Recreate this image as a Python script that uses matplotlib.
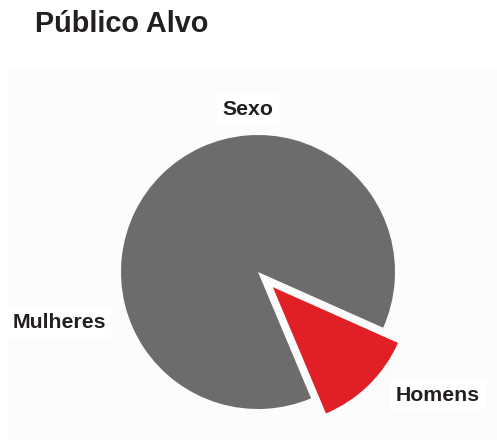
import matplotlib
matplotlib.use("Agg")
import matplotlib.pyplot as plt
from matplotlib.patches import Rectangle

# Audience split by sex (percent)
categories = ["Mulheres", "Homens"]
shares = [88, 12]
colors = ["#6e6b6b", "#e01f26"]
explode_frac = [0, 0.155]

title = "Público Alvo"
subtitle = "Sexo"

plt.rcParams["font.family"] = ["Liberation Sans", "DejaVu Sans"]

W, H = 497, 440
fig = plt.figure(figsize=(W / 100, H / 100), dpi=100)
fig.patch.set_facecolor("white")
ax = fig.add_axes([0, 0, 1, 1])

# faint panel behind the chart
ax.add_patch(Rectangle((8, 0), W - 8, H - 70, facecolor="#fcfcfc",
                       edgecolor="none", zorder=0))

cx, cy, r = 258, H - 272, 137
# pie() offsets wedges by explode in data units, so scale by the radius
wedges, _ = ax.pie(shares, colors=colors,
                   explode=[e * r for e in explode_frac],
                   startangle=336, counterclock=True, center=(cx, cy),
                   radius=r, wedgeprops=dict(linewidth=0), frame=True)
ax.set_xlim(0, W)
ax.set_ylim(0, H)
ax.set_aspect("equal")
ax.axis("off")

fig.text(35 / W, 1 - 24 / H, title, fontsize=20.8, fontweight="bold",
         color="#231f20", ha="left", va="center")

box = dict(facecolor="white", edgecolor="none", pad=4)
ax.text(248, H - 109, subtitle, fontsize=15.3, fontweight="bold",
        color="#231f20", ha="center", va="center", bbox=box)

label_pos = [(59, H - 323), (438, H - 395)]
for name, (x, y) in zip(categories, label_pos):
    ax.text(x, y, name, fontsize=15.3, fontweight="bold", color="#231f20",
            ha="center", va="center", bbox=box)

fig.savefig("out.png", dpi=100)
